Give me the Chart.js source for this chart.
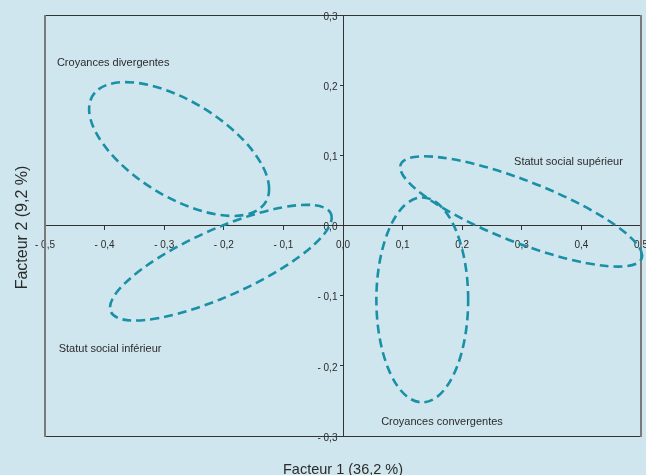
<!DOCTYPE html>
<html>
<head>
<meta charset="utf-8">
<script src="https://cdn.jsdelivr.net/npm/chart.js@4/dist/chart.umd.min.js"></script>
<style>
  html, body { margin: 0; padding: 0; background: #cfe6ee; }
  #wrap { width: 646px; height: 475px; }
</style>
</head>
<body>
<div id="wrap"><canvas id="afc"></canvas></div>
<script>
// tick labels (french decimal comma)
var xTickValues = [-0.5, -0.4, -0.3, -0.2, -0.1, 0, 0.1, 0.2, 0.3, 0.4, 0.5];
var xTickLabels = ['- 0,5', '- 0,4', '- 0,3', '- 0,2', '- 0,1', '0,0', '0,1', '0,2', '0,3', '0,4', '0,5'];
var yTickValues = [-0.3, -0.2, -0.1, 0, 0.1, 0.2, 0.3];
var yTickLabels = ['- 0,3', '- 0,2', '- 0,1', '0,0', '0,1', '0,2', '0,3'];

// groups: ellipse centre + two conjugate half-axes, in factor units
var groupNames = ['Croyances divergentes', 'Statut social inférieur', 'Statut social supérieur', 'Croyances convergentes'];
var groupCenters = [[-0.275, 0.109], [-0.205, -0.053], [0.299, 0.020], [0.133, -0.106]];
var groupAxisA = [[0.151, -0.057], [0.186, 0.064], [0.203, -0.063], [0.077, 0.0]];
var groupAxisB = [[0.0, 0.0765], [0.0, 0.052], [0.0, 0.047], [0.0, 0.146]];
var groupLabelAt = [[-0.48, 0.231], [-0.477, -0.176], [0.287, 0.090], [0.064, -0.280]];

var xTitle = 'Facteur 1 (36,2 %)';
var yTitle = 'Facteur 2 (9,2 %)';

var ink = '#2b2b2b';
var teal = '#1a90a6';
var font = '"Liberation Sans", Arial, sans-serif';

var ellipsePlugin = {
    id: 'ellipses',
    beforeDraw: function(chart) {
        var c = chart.ctx;
        c.save();
        c.fillStyle = '#cfe6ee';
        c.fillRect(0, 0, chart.width, chart.height);
        c.restore();
    },
    afterDraw: function(chart) {
        var c = chart.ctx;
        var xs = chart.scales.x, ys = chart.scales.y;
        var a = chart.chartArea;

        // frame
        c.save();
        c.strokeStyle = '#333';
        c.lineWidth = 1;
        c.beginPath();
        c.moveTo(a.left, a.top + 0.5); c.lineTo(a.right, a.top + 0.5);
        c.moveTo(a.left, a.bottom + 0.5); c.lineTo(a.right, a.bottom + 0.5);
        c.stroke();
        c.strokeStyle = '#7a7a7a';
        c.lineWidth = 2;
        c.beginPath();
        c.moveTo(a.left, a.top); c.lineTo(a.left, a.bottom + 1);
        c.moveTo(a.right, a.top); c.lineTo(a.right, a.bottom + 1);
        c.stroke();
        c.restore();

        // ellipses
        for (var i = 0; i < groupCenters.length; i++) {
            var ctr = groupCenters[i], ua = groupAxisA[i], ub = groupAxisB[i];
            var cx = xs.getPixelForValue(ctr[0]), cy = ys.getPixelForValue(ctr[1]);
            var ax = xs.getPixelForValue(ctr[0] + ua[0]) - cx, ay = ys.getPixelForValue(ctr[1] + ua[1]) - cy;
            var bx = xs.getPixelForValue(ctr[0] + ub[0]) - cx, by = ys.getPixelForValue(ctr[1] + ub[1]) - cy;
            c.save();
            c.beginPath();
            c.save();
            c.transform(ax, ay, bx, by, cx, cy);
            c.arc(0, 0, 1, 0, Math.PI * 2);
            c.restore();
            c.strokeStyle = teal;
            c.lineWidth = 2.6;
            c.setLineDash([9, 5]);
            c.stroke();
            c.restore();
        }

        // group labels
        c.save();
        c.fillStyle = ink;
        c.font = '11px ' + font;
        c.textBaseline = 'middle';
        c.textAlign = 'left';
        for (var j = 0; j < groupNames.length; j++) {
            var p = groupLabelAt[j];
            c.fillText(groupNames[j], xs.getPixelForValue(p[0]), ys.getPixelForValue(p[1]));
        }

        // axis titles
        c.textBaseline = 'alphabetic';
        c.textAlign = 'center';
        c.font = '14.5px ' + font;
        c.fillText(xTitle, xs.getPixelForValue(0), 473.5);
        c.font = '16px ' + font;
        c.translate(27, ys.getPixelForValue(0) + 2);
        c.rotate(-Math.PI / 2);
        c.fillText(yTitle, 0, 0);
        c.restore();
    }
};

var ctx = document.getElementById('afc').getContext('2d');
var afcChart = new Chart(ctx, {
    type: 'scatter',
    data: { datasets: [] },
    options: {
        responsive: true,
        maintainAspectRatio: false,
        animation: false,
        layout: { padding: { left: 45, top: 15, right: 5, bottom: 39 } },
        plugins: { legend: { display: false }, tooltip: { enabled: false } },
        scales: {
            x: {
                type: 'linear',
                min: -0.5, max: 0.5,
                position: { y: 0 },
                afterBuildTicks: function(s) { s.ticks = xTickValues.map(function(v) { return { value: v }; }); },
                afterFit: function(s) { s.paddingLeft = 0; s.paddingRight = 0; },
                ticks: {
                    color: ink,
                    font: { family: font, size: 10 },
                    padding: 10,
                    maxRotation: 0,
                    autoSkip: false,
                    callback: function(v, i) { return xTickLabels[i]; }
                },
                grid: { drawOnChartArea: false, drawTicks: true, tickLength: 4, color: '#333' },
                border: { display: true, color: '#333', width: 1 }
            },
            y: {
                type: 'linear',
                min: -0.3, max: 0.3,
                position: { x: 0 },
                afterBuildTicks: function(s) { s.ticks = yTickValues.map(function(v) { return { value: v }; }); },
                afterFit: function(s) { s.paddingTop = 0; s.paddingBottom = 0; },
                ticks: {
                    color: ink,
                    font: { family: font, size: 10 },
                    labelOffset: 2,
                    autoSkip: false,
                    callback: function(v, i) { return yTickLabels[i] + '  '; }
                },
                grid: { drawOnChartArea: false, drawTicks: true, tickLength: 3, color: '#333' },
                border: { display: true, color: '#333', width: 1 }
            }
        }
    },
    plugins: [ellipsePlugin]
});
</script>
</body>
</html>
